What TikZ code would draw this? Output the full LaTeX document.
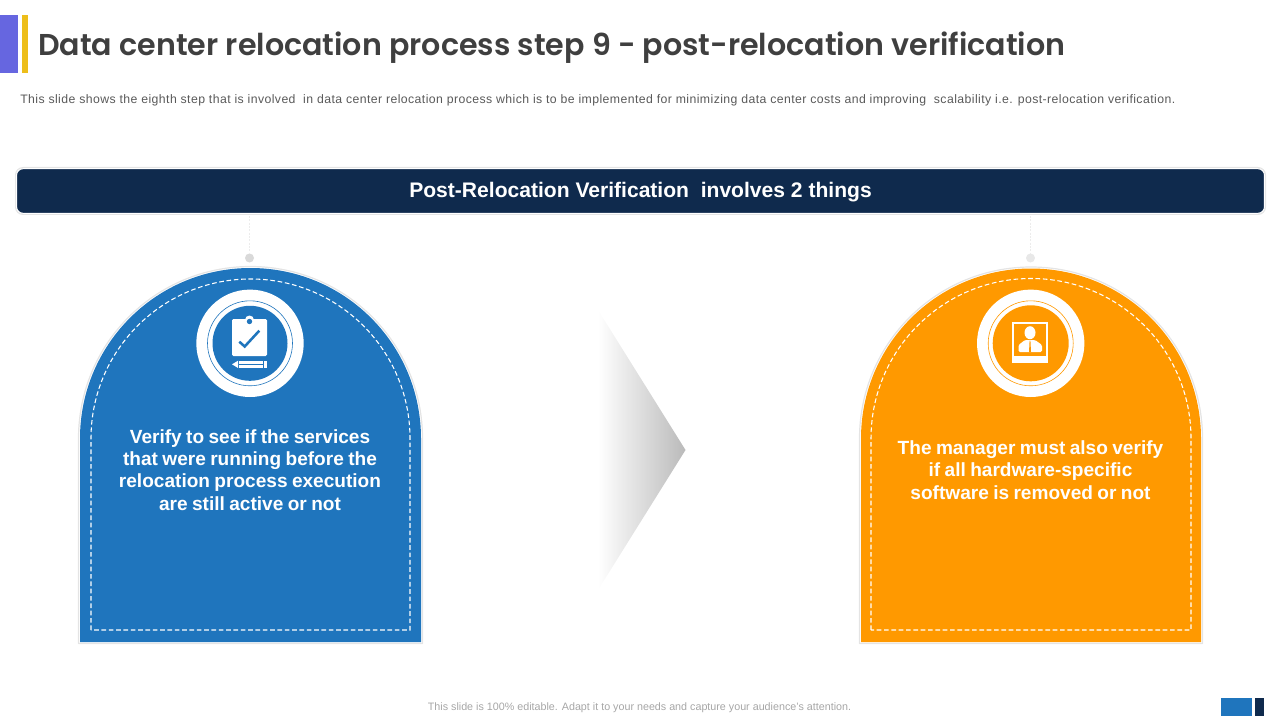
\documentclass[tikz,border=0pt]{standalone}
\usepackage{fontspec}
\setmainfont{Liberation Sans}
\newfontfamily\titlefont{Poppins SemiBold}
\newfontfamily\cardfont[WordSpace=0.83]{Liberation Sans}
\definecolor{cblue}{HTML}{1F75BD}
\definecolor{corange}{HTML}{FF9900}
\definecolor{navy}{HTML}{0F2A4D}
\definecolor{tgray}{HTML}{3F3F3F}
\definecolor{sgray}{HTML}{595959}
\definecolor{fgray}{HTML}{A6A6A6}
\definecolor{apurple}{HTML}{6666E0}
\definecolor{ayellow}{HTML}{EDBE1A}
\definecolor{dotA}{HTML}{D9D9D9}
\definecolor{dotB}{HTML}{E8E8E8}
\definecolor{stemgray}{HTML}{ECECEC}
\definecolor{edgegray}{HTML}{E4E4E4}
\tikzset{
  x=0.75pt,y=-0.75pt,
  edgeline/.style={draw=edgegray,line width=0.9pt,line join=round,fill=white},
  cardtext/.style={text=white,font=\cardfont\bfseries\fontsize{14.3}{16.7}\selectfont,align=center,inner sep=0pt},
  dashline/.style={draw=white,line width=0.8pt,dash pattern=on 3.5pt off 2pt},
  stemline/.style={draw=stemgray,line width=0.5pt,dash pattern=on 1.5pt off 1pt},
  thinring/.style={draw=#1,line width=0.45pt,fill=white},
}
\begin{document}
\begin{tikzpicture}
\useasboundingbox (0,0) rectangle (1280,720);
% header accents
\fill[apurple] (0,15) rectangle (18,73);
\fill[ayellow] (22,15) rectangle (28,73);
\node[anchor=west,inner sep=0pt,text=tgray,font=\titlefont\fontsize{22.6}{30}\selectfont] (title) at (38,48) {Data center relocation process step 9 - post-relocation verification};
\node[anchor=west,inner sep=0pt,text=sgray,font=\fontsize{9.2}{11}\selectfont\addfontfeature{LetterSpace=3.45}] (sub) at (20,100.5) {This slide shows the eighth step that is involved\ \ in data center relocation process which is to be implemented for minimizing data center costs and improving\ \ scalability i.e. post-relocation verification.};
% bar
\fill[edgegray,rounded corners=6pt] (15,167) rectangle (1266,215);
\node[draw=white,line width=0.8pt,fill=navy,rounded corners=5pt,minimum width=936pt,minimum height=33.5pt,inner sep=0pt,text=white,font=\bfseries\fontsize{15.8}{18}\selectfont] (bar) at (640.5,191) {\raisebox{-5.2pt}[0pt][0pt]{Post-Relocation Verification\ \ involves 2 things}};
% stems
\node[circle,fill=dotA,minimum size=6.75pt,inner sep=0pt] (dotL) at (249.5,258) {};
\node[circle,fill=dotB,minimum size=6.75pt,inner sep=0pt] (dotR) at (1030.5,258) {};
\coordinate (stemL) at (249.5,216);
\coordinate (stemR) at (1030.5,216);
\draw[stemline] (stemL) -- (dotL);
\draw[stemline] (stemR) -- (dotR);
% left card
\path[edgeline] (78.5,643.5) -- (78.5,438.5) arc[start angle=180,end angle=360,radius=172] -- (422.5,643.5) -- cycle;
\path[fill=cblue] (80,642) -- (80,438.5) arc[start angle=180,end angle=360,radius=170.5] -- (421,642) -- cycle;
\draw[dashline] (91,630) -- (91,438.5) arc[start angle=180,end angle=360,radius=159.5] -- (410,630) -- cycle;
% right card
\path[edgeline] (859.5,643.5) -- (859.5,438.5) arc[start angle=180,end angle=360,radius=171.5] -- (1202.5,643.5) -- cycle;
\path[fill=corange] (861,642) -- (861,438.5) arc[start angle=180,end angle=360,radius=170] -- (1201,642) -- cycle;
\draw[dashline] (871,630) -- (871,438.5) arc[start angle=180,end angle=360,radius=160] -- (1191,630) -- cycle;
% left icon
\fill[white] (250,343.3) circle[radius=53.7];
\draw[thinring=cblue] (250,343.3) circle[radius=42.5];
\fill[cblue] (250,343.3) circle[radius=37.5];
\fill[white,rounded corners=1pt] (232,319) rectangle (267,356);
\fill[white] (249.5,320) circle[radius=4.5];
\fill[cblue] (249.5,321.5) circle[radius=2.7];
\draw[cblue,line width=1.9pt] (239.3,341.7) -- (244.7,346.5) -- (259.3,330.7);
\fill[white] (232,364.3) -- (238,360.7) -- (238,368) -- cycle;
\fill[white] (239,360.7) rectangle (262.5,363.6);
\fill[white] (239,365.1) rectangle (262.5,368);
\fill[white] (263.5,360.7) rectangle (267.3,368);
% right icon
\fill[white] (1030.7,343.3) circle[radius=53.7];
\draw[thinring=corange] (1030.7,343.3) circle[radius=42.5];
\fill[corange] (1030.7,343.3) circle[radius=38];
\fill[white] (1012,322) rectangle (1048,363);
\fill[corange] (1014,324) rectangle (1046,356);
\fill[white] (1030,332.7) ellipse[x radius=5.5,y radius=6.5];
\fill[white,rounded corners=1pt] (1018.5,352) -- (1018.5,345) -- (1025,340) -- (1035,340) -- (1042,345) -- (1042,352) -- cycle;
\fill[corange] (1029.6,340.5) -- (1030.4,340.5) -- (1031,352) -- (1029,352) -- cycle;
% card text
\node[cardtext] (textL) at (250,470) {Verify to see if the services\\that were running before the\\relocation process execution\\are still active or not};
\node[cardtext] (textR) at (1030.5,470) {The manager must also verify\\if all hardware-specific\\software is removed or not};
% arrow
\shade[left color=white,right color=black!27] (598,310) -- (685.5,450) -- (598,590) -- cycle;
% footer
\node[inner sep=0pt,text=fgray,font=\fontsize{8.05}{9}\selectfont] (foot) at (639.5,708) {This slide is 100\% editable. Adapt it to your needs and capture your audience's attention.};
\fill[cblue] (1221,698) rectangle (1252,716);
\fill[navy] (1255,698) rectangle (1264,716);
\end{tikzpicture}
\end{document}
